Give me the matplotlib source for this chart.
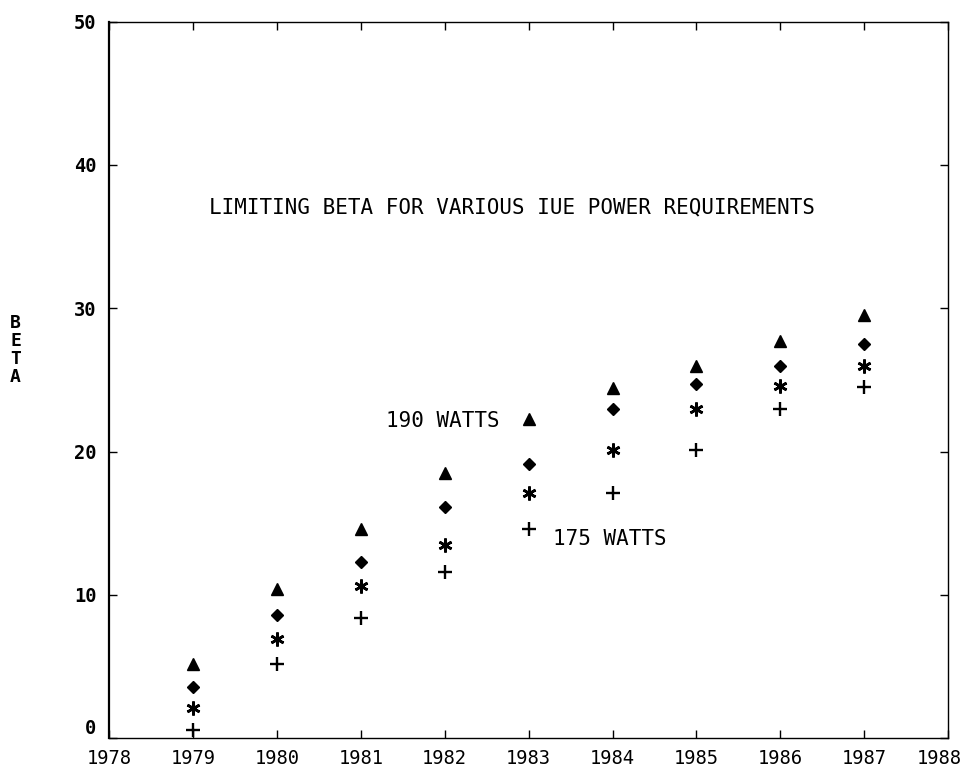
import matplotlib
matplotlib.use("Agg")
import matplotlib.pyplot as plt
from matplotlib.transforms import ScaledTranslation

years = [1979, 1980, 1981, 1982, 1983, 1984, 1985, 1986, 1987]
beta_190w = [5.2, 10.4, 14.6, 18.5, 22.3, 24.4, 26.0, 27.7, 29.5]
beta_185w = [3.6, 8.6, 12.3, 16.1, 19.1, 23.0, 24.7, 26.0, 27.5]
beta_180w = [2.1, 6.9, 10.6, 13.5, 17.1, 20.1, 23.0, 24.6, 26.0]
beta_175w = [0.6, 5.2, 8.4, 11.6, 14.6, 17.1, 20.1, 23.0, 24.5]

x_ticks = list(range(1978, 1989))
y_ticks = [0, 10, 20, 30, 40, 50]

title_text = "LIMITING BETA FOR VARIOUS IUE POWER REQUIREMENTS"
label_190 = "190 WATTS"
label_175 = "175 WATTS"
y_label = "B\nE\nT\nA"

font = "DejaVu Sans Mono"

fig = plt.figure(figsize=(9.69, 7.69), dpi=100)
ax = fig.add_axes([0.1125, 0.040, 0.866, 0.932])

ax.plot(years, beta_190w, linestyle="none", marker="^", markersize=8.5,
        color="black")
ax.plot(years, beta_185w, linestyle="none", marker="D", markersize=6.5,
        color="black")
ax.plot(years, beta_180w, linestyle="none", marker=(6, 2, 0), markersize=10,
        markeredgewidth=1.9, color="black")
ax.plot(years, beta_175w, linestyle="none", marker="+", markersize=10,
        markeredgewidth=1.7, color="black")

ax.set_xlim(1978, 1988)
ax.set_ylim(0, 50)
ax.set_xticks(x_ticks)
ax.set_yticks(y_ticks)
ax.set_xticklabels([str(v) for v in x_ticks], family=font, fontsize=13.5)
ax.set_yticklabels([str(v) for v in y_ticks], family=font, fontsize=13.5,
                   fontweight="bold")
ax.tick_params(axis="both", direction="in", length=6, width=1,
               top=True, right=True)
ax.tick_params(axis="x", pad=8)
ax.tick_params(axis="y", pad=9)
for s in ax.spines.values():
    s.set_linewidth(1.0)
    s.set_color("black")
ax.spines["left"].set_linewidth(1.6)

ylabs = ax.get_yticklabels()
ylabs[0].set_verticalalignment("bottom")
xlabs = ax.get_xticklabels()
xlabs[-1].set_transform(xlabs[-1].get_transform()
                        + ScaledTranslation(-0.09, 0, fig.dpi_scale_trans))

ax.text(1982.8, 37.0, title_text, family=font, fontsize=15,
        ha="center", va="center")
ax.text(1981.3, 22.1, label_190, family=font, fontsize=15,
        ha="left", va="center")
ax.text(1983.29, 13.9, label_175, family=font, fontsize=15,
        ha="left", va="center")

fig.text(0.016, 0.545, y_label, family=font, fontsize=13, ha="center",
         va="center", linespacing=1.0, fontweight="bold")

fig.savefig("out.png", dpi=100)
